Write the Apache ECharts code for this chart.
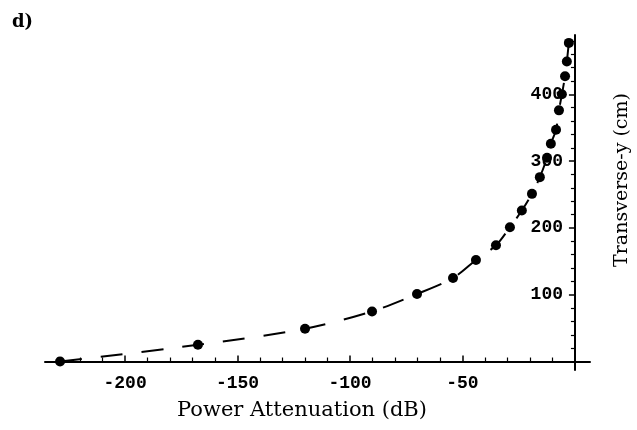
<!DOCTYPE html>
<html>
<head>
<meta charset="utf-8">
<script src="https://cdn.jsdelivr.net/npm/echarts@6/dist/echarts.min.js"></script>
<style>html,body{margin:0;padding:0;background:#fff}#c{width:637px;height:430px}</style>
</head>
<body>
<div id="c"></div>
<script>
// Data
const attenuationDb = [-228.9, -167.6, -120, -90.2, -70.2, -54.2, -44, -35.1, -28.9, -23.6, -19.1, -15.6, -12.4, -10.7, -8.4, -7.1, -5.8, -4.4, -3.6, -2.7];
const transverseCm = [0, 25, 49, 75, 101, 125, 152, 174, 201, 226, 251, 276, 305, 326, 347, 376, 400, 427, 449, 477];
const xMajorTicks = [-200, -150, -100, -50];
const xMinorTicks = [-230, -220, -210, -190, -180, -170, -160, -140, -130, -120, -110, -90, -80, -70, -60, -40, -30, -20, -10];
const yMajorTicks = [100, 200, 300, 400];
const yMinorTicks = [20, 40, 60, 80, 120, 140, 160, 180, 220, 240, 260, 280, 320, 340, 360, 380, 420, 440, 460, 480];
const xTitle = 'Power Attenuation (dB)';
const yTitle = 'Transverse-y (cm)';
const panelLabel = 'd)';

const points = attenuationDb.map((x, i) => [x, transverseCm[i]]);
const tickFont = {fontFamily: 'Liberation Mono', fontWeight: 'bold', fontSize: 18, color: '#000'};
const X_MIN = -235.6, X_MAX = 6.7, Y_MIN = -12.7, Y_MAX = 488.8;

const chart = echarts.init(document.getElementById('c'), null, {renderer: 'canvas'});
chart.setOption({
  animation: false,
  backgroundColor: '#fff',
  grid: {left: 45, right: 47, top: 35, bottom: 60, containLabel: false},
  xAxis: [
    {
      type: 'value', min: X_MIN, max: X_MAX, position: 'bottom',
      axisLine: {show: true, onZero: true, lineStyle: {color: '#000', width: 2}},
      axisTick: {show: true, inside: true, length: 6, customValues: xMajorTicks, lineStyle: {color: '#000', width: 1.5}},
      axisLabel: Object.assign({show: true, margin: 4, customValues: xMajorTicks, formatter: v => String(v)}, tickFont),
      splitLine: {show: false}
    },
    {
      type: 'value', min: X_MIN, max: X_MAX, position: 'bottom',
      axisLine: {show: false, onZero: true},
      axisTick: {show: true, inside: true, length: 4, customValues: xMinorTicks, lineStyle: {color: '#000', width: 1.2}},
      axisLabel: {show: false},
      splitLine: {show: false}
    }
  ],
  yAxis: [
    {
      type: 'value', min: Y_MIN, max: Y_MAX, position: 'right',
      axisLine: {show: true, onZero: true, lineStyle: {color: '#000', width: 2}},
      axisTick: {show: true, inside: true, length: 6, customValues: yMajorTicks, lineStyle: {color: '#000', width: 1.5}},
      axisLabel: {show: false},
      splitLine: {show: false}
    },
    {
      type: 'value', min: Y_MIN, max: Y_MAX, position: 'right',
      axisLine: {show: false, onZero: true},
      axisTick: {show: true, inside: true, length: 4, customValues: yMinorTicks, lineStyle: {color: '#000', width: 1.2}},
      axisLabel: {show: false},
      splitLine: {show: false}
    },
    {
      // label carrier placed at the x = 0 line (grid left 45 -> axis at 575)
      type: 'value', min: Y_MIN, max: Y_MAX, position: 'left', offset: -530,
      axisLine: {show: false, onZero: false},
      axisTick: {show: false},
      axisLabel: Object.assign({show: true, margin: 12, customValues: yMajorTicks, formatter: v => String(v)}, tickFont),
      splitLine: {show: false}
    }
  ],
  series: [
    {
      type: 'line', xAxisIndex: 0, yAxisIndex: 0, data: points,
      smooth: 0.3, clip: false,
      symbol: 'circle', symbolSize: 10,
      itemStyle: {color: '#000'},
      lineStyle: {color: '#000', width: 2, type: [22, 19]}
    }
  ],
  graphic: [
    {type: 'text', left: 12, top: 13, style: {text: panelLabel, font: 'bold 18px "DejaVu Serif"', fill: '#000'}},
    {type: 'text', x: 302, y: 411, style: {text: xTitle, font: '21px "DejaVu Serif"', fill: '#000', textAlign: 'center', textVerticalAlign: 'middle'}},
    {type: 'text', x: 622, y: 180, rotation: Math.PI / 2, style: {text: yTitle, font: '19px "DejaVu Serif"', fill: '#000', textAlign: 'center', textVerticalAlign: 'middle'}}
  ]
});
</script>
</body>
</html>
